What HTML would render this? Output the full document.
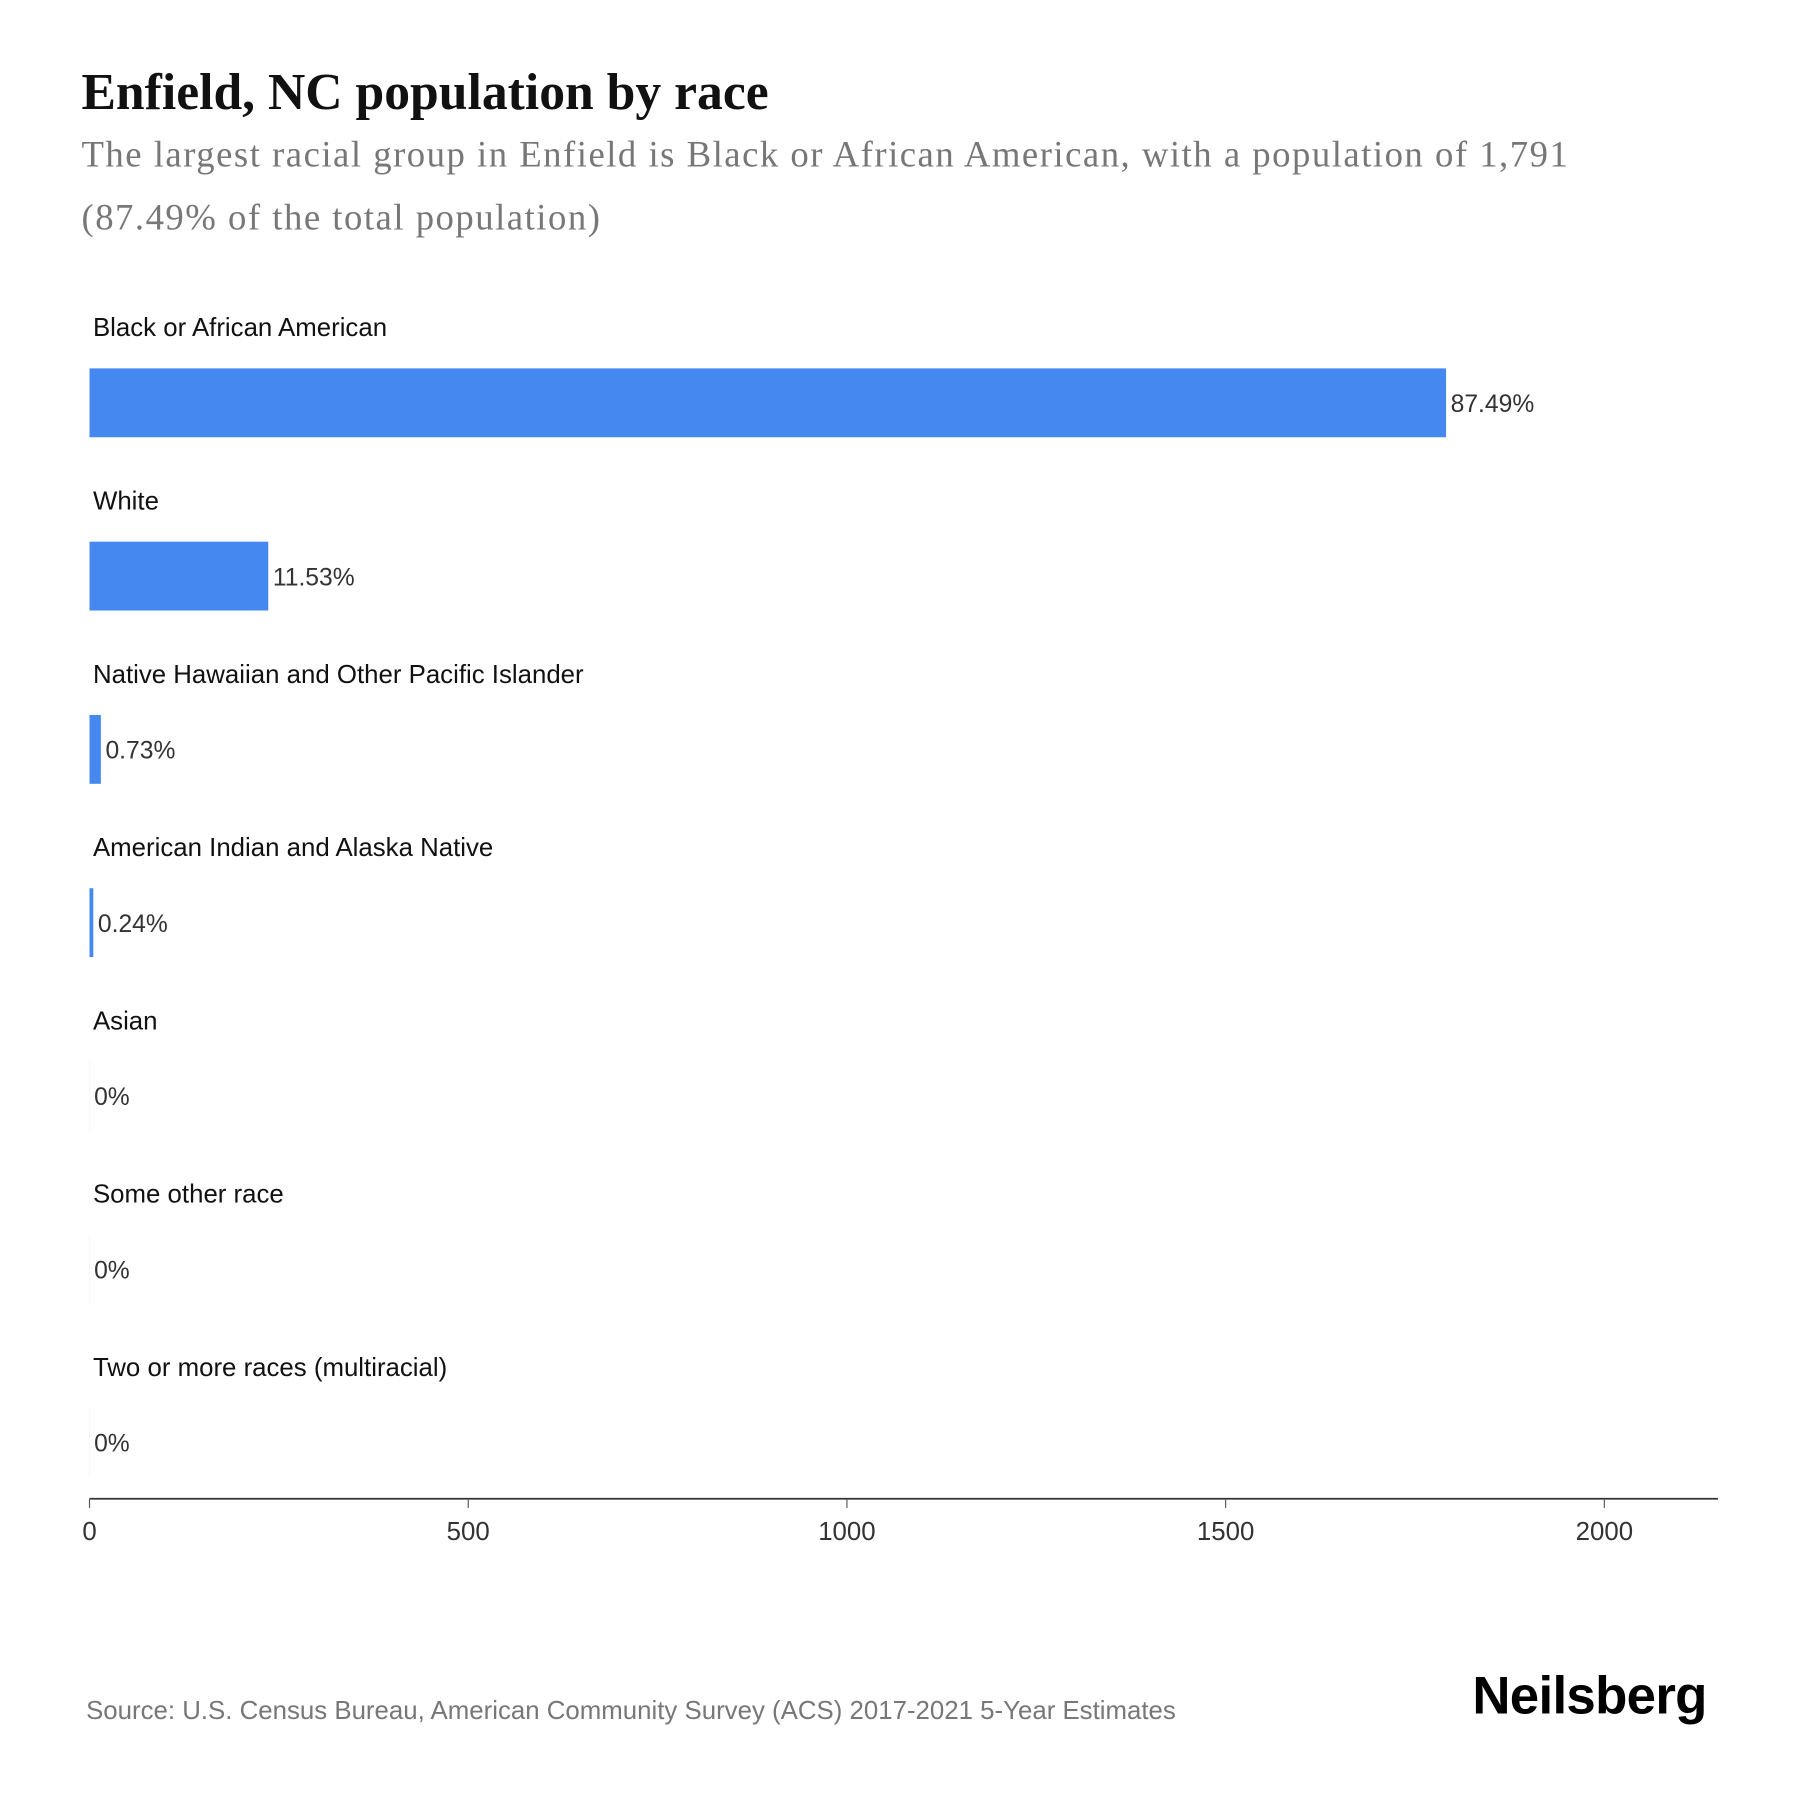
<!DOCTYPE html>
<html><head><meta charset="utf-8"><style>
html,body{margin:0;padding:0;background:#fff;}
#wrap{width:1568px;height:1568px;transform:scale(1.1476);transform-origin:0 0;position:relative;overflow:hidden;}
.t{position:absolute;white-space:nowrap;}
#title{left:71px;top:54px;font:bold 45px "Liberation Serif",serif;color:#111;}
.sub{left:71px;font:32px "Liberation Serif",serif;color:#777;letter-spacing:1.3px;}
#src{left:75px;top:1478px;font:22.5px "Liberation Sans",sans-serif;color:#777;}
#logo{left:1283px;top:1450px;font:bold 46px "Liberation Sans",sans-serif;color:#000;letter-spacing:-0.6px;}
</style></head><body>
<div id="wrap">
<div class="t" id="title">Enfield, NC population by race</div>
<div class="t sub" style="top:116px">The largest racial group in Enfield is Black or African American, with a population of 1,791</div>
<div class="t sub" style="top:171px">(87.49% of the total population)</div>
<svg id="chart" width="1568" height="1568" style="position:absolute;left:0;top:0"></svg>
<div class="t" id="src">Source: U.S. Census Bureau, American Community Survey (ACS) 2017-2021 5-Year Estimates</div>
<div class="t" id="logo">Neilsberg</div>
</div>
<script>
const categories=["Black or African American","White","Native Hawaiian and Other Pacific Islander","American Indian and Alaska Native","Asian","Some other race","Two or more races (multiracial)"];
const populations=[1791,236,15,5,0,0,0];
const percentLabels=["87.49%","11.53%","0.73%","0.24%","0%","0%","0%"];
const ticks=[0,500,1000,1500,2000];
const NS="http://www.w3.org/2000/svg";
const svg=document.getElementById('chart');
const x=v=>78+v*0.66;
const rowY=i=>270+i*151;
function mk(t,a){const e=document.createElementNS(NS,t);for(const k in a)e.setAttribute(k,a[k]);svg.appendChild(e);return e;}
categories.forEach((c,i)=>{
  const y=rowY(i);
  const lab=mk('text',{x:81,y:y+23,'font-family':'Liberation Sans, sans-serif','font-size':22.5,fill:'#111'});
  lab.textContent=c;
  
  
  const w=x(populations[i])-x(0);
  const bar=mk('rect',{x:x(0),y:y+51,width:Math.max(w,0.5),height:60,fill:populations[i]>0?'#4589f0':'#f0f0f0'});
  
  
  const v=mk('text',{x:x(populations[i])+4,y:y+89,'font-family':'Liberation Sans, sans-serif','font-size':21.5,fill:'#333'});
  v.textContent=percentLabels[i];
  
  
});
const ax=mk('line',{x1:78,y1:1306,x2:1497,y2:1306,stroke:'#333','stroke-width':1.5});


ticks.forEach(t=>{
  const tk=mk('line',{x1:x(t),y1:1306,x2:x(t),y2:1314,stroke:'#555','stroke-width':1});
  
  
  const tl=mk('text',{x:x(t),y:1342,'text-anchor':'middle','font-family':'Liberation Sans, sans-serif','font-size':22.5,fill:'#333'});
  tl.textContent=t;
  
  
});
</script>
</body></html>
